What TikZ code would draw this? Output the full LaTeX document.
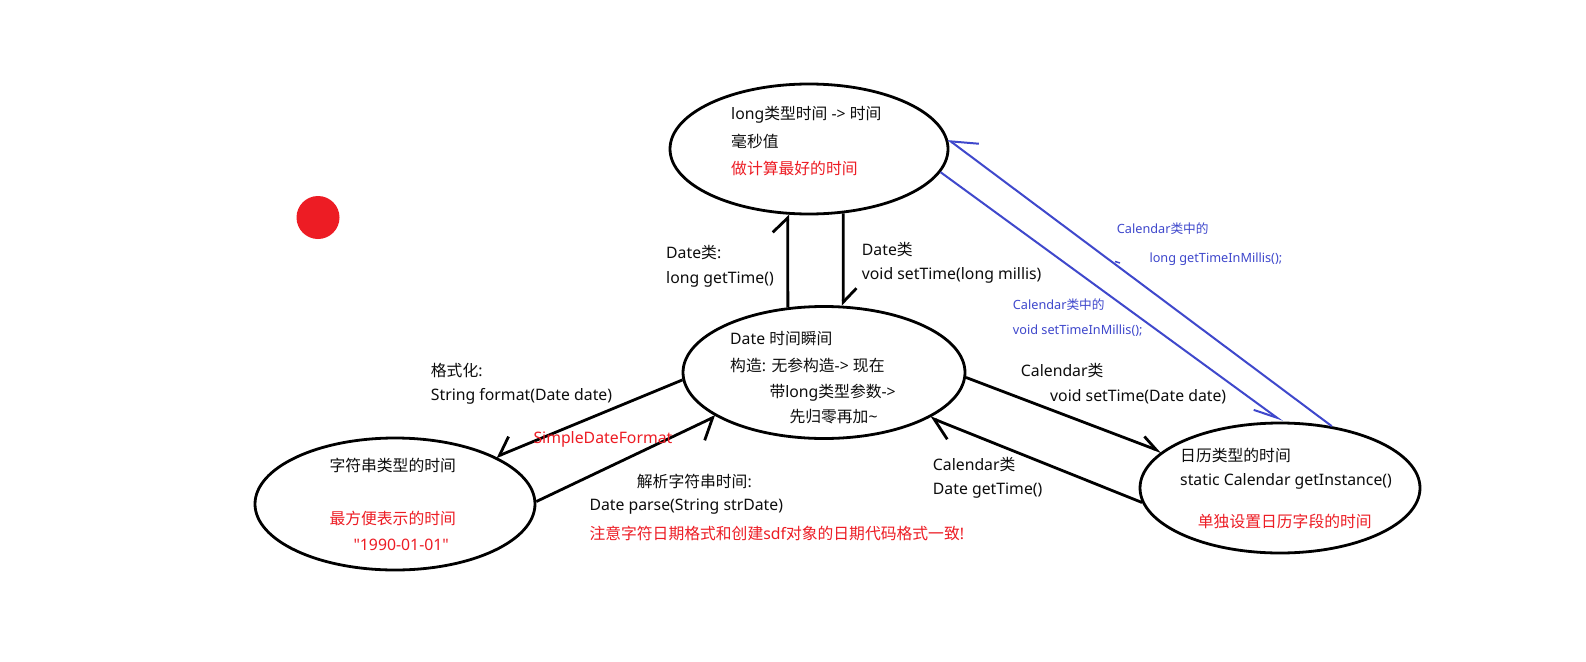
\documentclass[tikz,border=0pt]{standalone}
\usepackage{fontspec}
\setmainfont{Noto Sans}[Ligatures=TeXOff]
\newfontfamily\cjkfont{Noto Sans CJK SC}[Ligatures=TeXOff]
\newfontfamily\latfont{Noto Sans}[Ligatures=TeXOff]
\XeTeXinterchartokenstate=1
\newXeTeXintercharclass\CJKcls
\newcount\cjkcnt
\cjkcnt="4E00
\loop
  \XeTeXcharclass\cjkcnt=\CJKcls
  \advance\cjkcnt by 1
\ifnum\cjkcnt<"A000 \repeat
\XeTeXinterchartoks 0 \CJKcls = {\cjkfont}
\XeTeXinterchartoks 4095 \CJKcls = {\cjkfont}
\XeTeXinterchartoks \CJKcls 0 = {\latfont}
\XeTeXinterchartoks \CJKcls 4095 = {\latfont}
\usetikzlibrary{shapes.geometric,arrows.meta}
\definecolor{pred}{HTML}{ED1C24}
\definecolor{pblue}{HTML}{3F48CC}
\definecolor{ink}{HTML}{0D0D0D}
\begin{document}
\begin{tikzpicture}[x=1pt,y=-1pt,
  state/.style={ellipse, draw=black, line width=2.8pt, inner sep=0pt},
  lbl/.style={anchor=west, inner sep=0pt, font=\fontsize{15.8}{18}\selectfont, text=ink},
  rlbl/.style={lbl, text=pred},
  blbl/.style={anchor=west, inner sep=0pt, font=\fontsize{12.7}{15}\selectfont, text=pblue},
  conn/.style={line width=2.8pt, draw=black},
  bconn/.style={line width=2pt, draw=pblue},
]
\useasboundingbox (0,0) rectangle (1586,661);
\fill[white] (0,0) rectangle (1586,661);

% states
\node[state, minimum width=278pt, minimum height=130pt] (T) at (809,149) {};
\node[state, minimum width=282pt, minimum height=132pt] (M) at (824,372.5) {};
\node[state, minimum width=280pt, minimum height=132pt] (L) at (395,504) {};
\node[state, minimum width=280pt, minimum height=130pt] (R) at (1280,488) {};
\node[circle, fill=pred, minimum size=43pt, inner sep=0pt] (dot) at (318,217.5) {};

% texts inside
\node[lbl] (t1) at (731,115) {long类型时间 -> 时间};
\node[lbl] (t2) at (731,141.7) {毫秒值};
\node[rlbl] (t3) at (731,168.3) {做计算最好的时间};

\node[lbl] (m1) at (730,338.3) {Date 时间瞬间};
\node[lbl] (m2) at (730,365) {构造: 无参构造-> 现在};
\node[lbl] (m3) at (769.3,392.7) {带long类型参数->};
\node[lbl] (m4) at (789.3,416.7) {先归零再加\textasciitilde};

\node[lbl] (l1) at (329.3,465) {字符串类型的时间};
\node[rlbl] (l2) at (329.3,518.3) {最方便表示的时间};
\node[rlbl] (l3) at (353.3,545) {"1990-01-01"};

\node[lbl] (r1) at (1180,455) {日历类型的时间};
\node[lbl] (r2) at (1180,481.7) {static Calendar getInstance()};
\node[rlbl] (r3) at (1197.7,521.7) {单独设置日历字段的时间};

% connectors
\draw[conn, -{Straight Barb[harpoon, length=14.4pt, width=30pt]}] (M.119.4) -- (T.-108.1);
\draw[conn, -{Straight Barb[harpoon, length=14pt, width=26.6pt]}] (T.-62.4) -- (M.74.6);
\draw[conn, -{Straight Barb[harpoon, swap, length=15.6pt, width=28pt]}] (M.183.1) -- (L.25.9);
\draw[conn, -{Straight Barb[harpoon, swap, length=16.9pt, width=34pt]}] (L.1.9) -- (M.202.7);
\draw[conn, -{Straight Barb[harpoon, length=15.7pt, width=16.4pt]}] (M.-2.4) -- (R.163.7);
\draw[conn, -{Straight Barb[harpoon, length=19.7pt, width=27.6pt]}] (R.186.5) -- (M.-23.7);
\draw[bconn, -{Straight Barb[harpoon, swap, length=23.5pt, width=14.8pt]}] (T.-10.7) -- (R.88.5);
\draw[bconn, -{Straight Barb[harpoon, swap, length=24pt, width=30pt]}] (R.50.2) -- (T.4.4);
\coordinate (s1) at (1115,261.5);
\coordinate (s2) at (1120,263);
\draw[bconn, line width=1.5pt] (s1) -- (s2);

% labels
\node[lbl] (a1) at (666,252.7) {Date类:};
\node[lbl] (a2) at (666,279.3) {long getTime()};
\node[lbl] (b1) at (861.7,250) {Date类};
\node[lbl] (b2) at (861.7,275.7) {void setTime(long millis)};
\node[lbl] (c1) at (430.7,370) {格式化:};
\node[lbl] (c2) at (430.7,396) {String format(Date date)};
\node[rlbl] (c3) at (533.3,439.3) {SimpleDateFormat};
\node[lbl] (d1) at (636.7,481.7) {解析字符串时间:};
\node[lbl] (d2) at (589.3,506.7) {Date parse(String strDate)};
\node[rlbl] (d3) at (589.3,533.3) {注意字符日期格式和创建sdf对象的日期代码格式一致!};
\node[lbl] (e1) at (1020.7,370) {Calendar类};
\node[lbl] (e2) at (1050,396.7) {void setTime(Date date)};
\node[lbl] (f1) at (932.7,464) {Calendar类};
\node[lbl] (f2) at (932.7,491) {Date getTime()};
\node[blbl] (g1) at (1116.7,228.3) {Calendar类中的};
\node[blbl] (g2) at (1149.3,259.3) {long getTimeInMillis();};
\node[blbl] (h1) at (1012.7,305) {Calendar类中的};
\node[blbl] (h2) at (1012.7,330.7) {void setTimeInMillis();};
\end{tikzpicture}
\end{document}
